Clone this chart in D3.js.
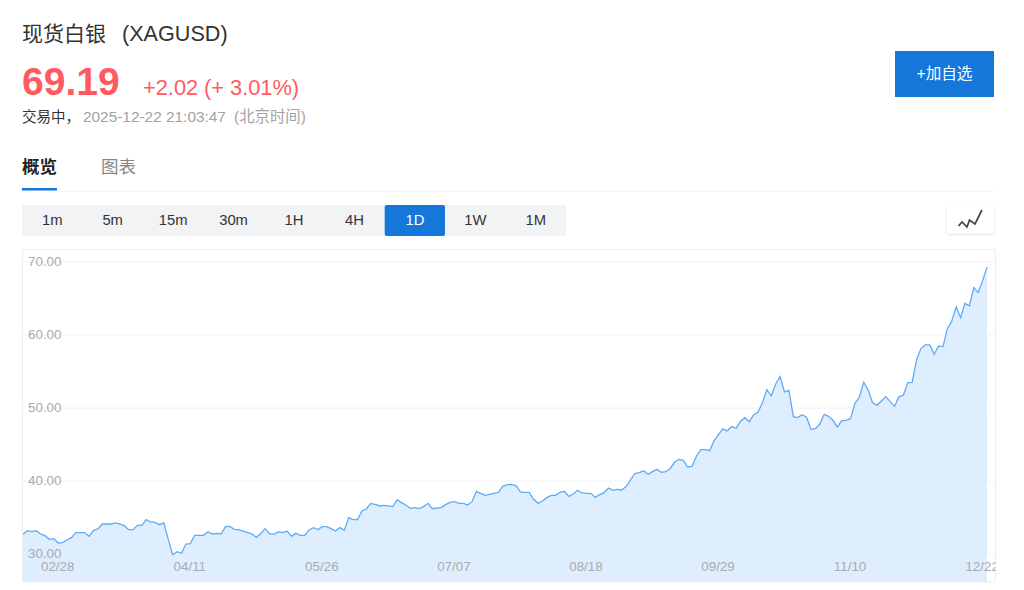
<!DOCTYPE html>
<html><head><meta charset="utf-8">
<script src="https://cdn.jsdelivr.net/npm/d3@7/dist/d3.min.js"></script>
<style>html,body{margin:0;padding:0;background:#fff;overflow:hidden}svg{display:block}text{font-family:"Liberation Sans","Noto Sans CJK SC",sans-serif}</style>
</head><body><svg id="c" width="1024" height="590"></svg>
<script>
const closes = [32.67,33.13,32.99,33.13,32.67,32.44,31.94,32.03,31.44,31.49,31.85,32.17,32.86,32.86,32.86,32.35,33.13,33.36,34.04,34.04,
34.04,34.18,34.04,33.81,33.27,33.27,33.86,33.86,34.64,34.32,34.27,33.95,34.18,31.94,29.84,30.25,30.03,31.30,31.35,32.49,
32.49,32.49,32.99,32.67,32.76,32.67,33.68,33.72,33.31,33.27,33.08,32.86,32.70,32.22,32.75,33.40,32.72,32.63,32.95,32.86,
33.08,32.35,32.76,32.49,32.49,33.22,33.54,33.27,33.68,33.68,33.40,33.08,33.54,33.17,34.91,34.64,34.64,35.82,36.10,36.87,
36.74,36.51,36.60,36.51,36.42,37.33,36.97,36.60,36.19,36.28,36.14,36.42,36.87,36.14,36.23,36.28,36.69,37.01,37.10,36.87,
36.87,36.65,37.10,38.52,38.24,37.97,38.11,38.24,38.36,39.20,39.43,39.43,39.29,38.43,38.38,38.38,37.42,36.87,37.19,37.65,
37.97,37.97,38.38,38.52,37.83,38.15,38.66,38.29,38.24,38.24,37.70,38.06,38.34,38.97,38.66,38.79,38.70,39.16,40.07,40.94,
41.08,41.35,40.85,41.21,41.53,41.12,41.21,41.62,42.49,42.90,42.77,41.85,41.94,43.36,44.23,44.23,44.09,45.46,46.28,47.08,
46.80,47.38,47.15,48.13,48.61,48.06,49.02,49.39,50.67,52.45,51.58,53.22,54.23,52.13,52.35,48.75,48.61,49.02,48.66,47.01,
47.10,47.70,49.07,48.79,48.25,47.33,48.20,48.25,48.50,50.58,51.40,53.48,52.40,50.67,50.30,50.90,51.49,50.80,50.16,51.49,
51.67,53.41,53.45,56.51,58.11,58.57,58.57,57.29,58.43,58.34,60.80,61.85,63.77,62.31,64.27,63.91,66.42,65.74,67.38,69.19];
const yTicks = [30,40,50,60,70];
const xTickDays = [8,38,68,98,128,158,188,218];
const xTickLabels = ["02/28","04/11","05/26","07/07","08/18","09/29","11/10","12/22"];
const intervals = ["1m","5m","15m","30m","1H","4H","1D","1W","1M"];
const activeInterval = "1D";

const svg = d3.select("#c");
function t(x,y,s,size,fill,opts={}){
  return svg.append("text").attr("x",x).attr("y",y).attr("font-size",size).attr("fill",fill)
    .attr("font-weight",opts.w||400).attr("text-anchor",opts.a||"start").text(s);
}
// header
t(22,41,"现货白银",21,"#333");
t(122,41,"(XAGUSD)",21.6,"#333");
t(22,95,"69.19",39,"#ff5b5f",{w:700});
t(143,95,"+2.02",21.8,"#ff5b5f");
t(204,95,"(+ 3.01%)",21.8,"#ff5b5f");
t(22,122,"交易中，",14.5,"#333");
t(83,122,"2025-12-22 21:03:47",15.4,"#a3a3a3");
t(234,122,"(北京时间)",15.4,"#a3a3a3");
t(22,173,"概览",17.5,"#222",{w:700});
t(101,173,"图表",17.5,"#888");
svg.append("rect").attr("x",22).attr("y",188).attr("width",35).attr("height",2.5).attr("fill","#1677db");
svg.append("line").attr("x1",57).attr("x2",995).attr("y1",191.5).attr("y2",191.5).attr("stroke","#f6f6f6");
// add button
svg.append("rect").attr("x",895).attr("y",51).attr("width",99).attr("height",46).attr("fill","#1677db");
t(944.5,79,"+加自选",15.6,"#fff",{a:"middle"});
// interval buttons
const band = d3.scaleBand().domain(intervals).range([22,566]);
svg.selectAll("rect.iv").data(intervals).join("rect").attr("class","iv")
  .attr("x",d=>band(d)).attr("y",205).attr("width",band.bandwidth()).attr("height",31)
  .attr("rx",d=>d===activeInterval?2:0)
  .attr("fill",d=>d===activeInterval?"#1677db":"#f2f3f5");
svg.selectAll("text.iv").data(intervals).join("text").attr("class","iv")
  .attr("x",d=>band(d)+band.bandwidth()/2).attr("y",225).attr("text-anchor","middle")
  .attr("font-size",14.8).attr("fill",d=>d===activeInterval?"#fff":"#333").text(d=>d);
// chart-type icon
const defs = svg.append("defs");
const f = defs.append("filter").attr("id","sh").attr("x","-30%").attr("y","-30%").attr("width","160%").attr("height","170%");
f.append("feDropShadow").attr("dx",0).attr("dy",1).attr("stdDeviation",1.5).attr("flood-color","#c5d4e8").attr("flood-opacity",.7);
svg.append("rect").attr("x",947).attr("y",205).attr("width",47).attr("height",28.5).attr("rx",2).attr("fill","#fff").attr("filter","url(#sh)");
svg.append("path").attr("d","M958.500 226l3.500-4 5 5 2.500-7 5.500 4 7-14").attr("fill","none").attr("stroke","#444").attr("stroke-width",1.7);
// chart
const frame = {l:22.5,r:995.5,t:249.5,b:582};
defs.append("clipPath").attr("id","frame").append("rect").attr("x",frame.l).attr("y",frame.t).attr("width",frame.r-frame.l).attr("height",frame.b-frame.t);
svg.append("rect").attr("x",frame.l).attr("y",frame.t).attr("width",frame.r-frame.l).attr("height",frame.b-frame.t).attr("fill","#fff").attr("stroke","#eeeeee");

const x = d3.scaleLinear().domain([0,closes.length-1]).range([23,987]);
const y = d3.scaleLinear().domain([30,70]).range([553.5,261.5]);
const plot = svg.append("g").attr("clip-path","url(#frame)");

// grid lines under the fill
plot.append("g").attr("transform",`translate(${frame.l},0)`)
  .call(d3.axisRight(y).tickValues(yTicks).tickSize(frame.r-frame.l).tickFormat(""))
  .call(g=>g.select(".domain").remove())
  .call(g=>g.selectAll(".tick line").attr("stroke","#f2f2f2"));

const area = d3.area().x((d,i)=>x(i)).y0(frame.b).y1(d=>y(d));
const line = d3.line().x((d,i)=>x(i)).y(d=>y(d));
plot.append("path").datum(closes).attr("d",area).attr("fill","#deeefe");
plot.append("path").datum(closes).attr("d",line).attr("fill","none").attr("stroke","#5fabf7").attr("stroke-width",1.3);

// y labels
const gy = plot.append("g").attr("transform",`translate(${frame.l},0)`)
  .call(d3.axisRight(y).tickValues(yTicks).tickSize(0).tickPadding(5.500).tickFormat(d3.format(".2f")));
gy.select(".domain").remove();
gy.selectAll(".tick line").remove();
gy.selectAll(".tick text").attr("font-size",13.4).attr("fill","#aaaaaa");

// x labels
const gx = plot.append("g").attr("transform","translate(-1,558.5)")
  .call(d3.axisBottom(x).tickValues(xTickDays).tickSize(0).tickFormat((d,i)=>xTickLabels[i]));
gx.select(".domain").remove();
gx.selectAll(".tick text").attr("font-size",13.4).attr("fill","#aaaaaa");
svg.selectAll("g").attr("font-family",null).attr("font-size",null);
</script></body></html>
